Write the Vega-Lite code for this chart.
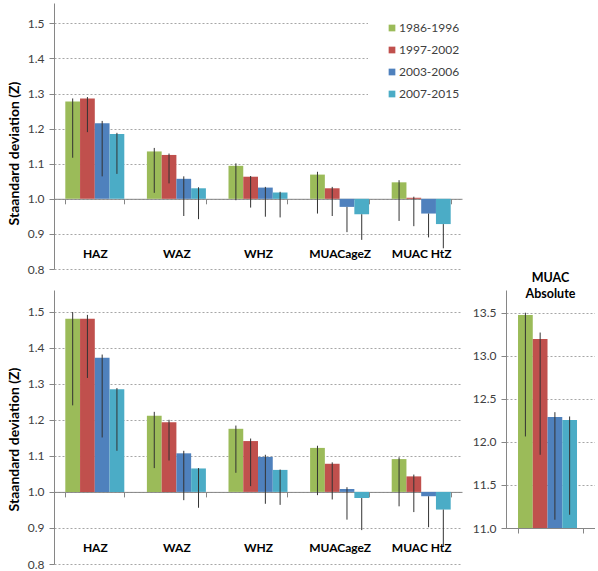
{
  "$schema": "https://vega.github.io/schema/vega-lite/v6.json",
  "padding": {"left": 7, "top": 3, "right": 0, "bottom": 0},
  "bounds": "flush",
  "spacing": 21,
  "datasets": {
    "z": [
      {"panel": "top", "indicator": "HAZ", "period": "1986-1996", "value": 1.277, "lo": 1.117, "hi": 1.286},
      {"panel": "top", "indicator": "HAZ", "period": "1997-2002", "value": 1.286, "lo": 1.190, "hi": 1.290},
      {"panel": "top", "indicator": "HAZ", "period": "2003-2006", "value": 1.215, "lo": 1.064, "hi": 1.222},
      {"panel": "top", "indicator": "HAZ", "period": "2007-2015", "value": 1.185, "lo": 1.071, "hi": 1.188},
      {"panel": "top", "indicator": "WAZ", "period": "1986-1996", "value": 1.135, "lo": 1.017, "hi": 1.145},
      {"panel": "top", "indicator": "WAZ", "period": "1997-2002", "value": 1.125, "lo": 1.044, "hi": 1.129},
      {"panel": "top", "indicator": "WAZ", "period": "2003-2006", "value": 1.057, "lo": 0.951, "hi": 1.064},
      {"panel": "top", "indicator": "WAZ", "period": "2007-2015", "value": 1.030, "lo": 0.942, "hi": 1.033},
      {"panel": "top", "indicator": "WHZ", "period": "1986-1996", "value": 1.094, "lo": 0.996, "hi": 1.101},
      {"panel": "top", "indicator": "WHZ", "period": "1997-2002", "value": 1.063, "lo": 0.975, "hi": 1.065},
      {"panel": "top", "indicator": "WHZ", "period": "2003-2006", "value": 1.032, "lo": 0.949, "hi": 1.034},
      {"panel": "top", "indicator": "WHZ", "period": "2007-2015", "value": 1.018, "lo": 0.947, "hi": 1.020},
      {"panel": "top", "indicator": "MUACageZ", "period": "1986-1996", "value": 1.069, "lo": 0.958, "hi": 1.077},
      {"panel": "top", "indicator": "MUACageZ", "period": "1997-2002", "value": 1.030, "lo": 0.951, "hi": 1.034},
      {"panel": "top", "indicator": "MUACageZ", "period": "2003-2006", "value": 0.977, "lo": 0.905, "hi": 0.977},
      {"panel": "top", "indicator": "MUACageZ", "period": "2007-2015", "value": 0.956, "lo": 0.883, "hi": 0.956},
      {"panel": "top", "indicator": "MUAC HtZ", "period": "1986-1996", "value": 1.047, "lo": 0.937, "hi": 1.053},
      {"panel": "top", "indicator": "MUAC HtZ", "period": "1997-2002", "value": 1.003, "lo": 0.922, "hi": 1.006},
      {"panel": "top", "indicator": "MUAC HtZ", "period": "2003-2006", "value": 0.958, "lo": 0.890, "hi": 0.958},
      {"panel": "top", "indicator": "MUAC HtZ", "period": "2007-2015", "value": 0.928, "lo": 0.859, "hi": 0.928},
      {"panel": "bottom", "indicator": "HAZ", "period": "1986-1996", "value": 1.480, "lo": 1.240, "hi": 1.499},
      {"panel": "bottom", "indicator": "HAZ", "period": "1997-2002", "value": 1.480, "lo": 1.316, "hi": 1.491},
      {"panel": "bottom", "indicator": "HAZ", "period": "2003-2006", "value": 1.372, "lo": 1.151, "hi": 1.381},
      {"panel": "bottom", "indicator": "HAZ", "period": "2007-2015", "value": 1.285, "lo": 1.114, "hi": 1.288},
      {"panel": "bottom", "indicator": "WAZ", "period": "1986-1996", "value": 1.211, "lo": 1.066, "hi": 1.222},
      {"panel": "bottom", "indicator": "WAZ", "period": "1997-2002", "value": 1.193, "lo": 1.087, "hi": 1.200},
      {"panel": "bottom", "indicator": "WAZ", "period": "2003-2006", "value": 1.107, "lo": 0.977, "hi": 1.114},
      {"panel": "bottom", "indicator": "WAZ", "period": "2007-2015", "value": 1.065, "lo": 0.956, "hi": 1.066},
      {"panel": "bottom", "indicator": "WHZ", "period": "1986-1996", "value": 1.175, "lo": 1.053, "hi": 1.184},
      {"panel": "bottom", "indicator": "WHZ", "period": "1997-2002", "value": 1.141, "lo": 1.016, "hi": 1.148},
      {"panel": "bottom", "indicator": "WHZ", "period": "2003-2006", "value": 1.097, "lo": 0.967, "hi": 1.103},
      {"panel": "bottom", "indicator": "WHZ", "period": "2007-2015", "value": 1.061, "lo": 0.964, "hi": 1.062},
      {"panel": "bottom", "indicator": "MUACageZ", "period": "1986-1996", "value": 1.122, "lo": 0.991, "hi": 1.128},
      {"panel": "bottom", "indicator": "MUACageZ", "period": "1997-2002", "value": 1.078, "lo": 0.979, "hi": 1.082},
      {"panel": "bottom", "indicator": "MUACageZ", "period": "2003-2006", "value": 1.008, "lo": 0.923, "hi": 1.013},
      {"panel": "bottom", "indicator": "MUACageZ", "period": "2007-2015", "value": 0.983, "lo": 0.894, "hi": 0.983},
      {"panel": "bottom", "indicator": "MUAC HtZ", "period": "1986-1996", "value": 1.091, "lo": 0.960, "hi": 1.096},
      {"panel": "bottom", "indicator": "MUAC HtZ", "period": "1997-2002", "value": 1.043, "lo": 0.944, "hi": 1.048},
      {"panel": "bottom", "indicator": "MUAC HtZ", "period": "2003-2006", "value": 0.988, "lo": 0.902, "hi": 0.988},
      {"panel": "bottom", "indicator": "MUAC HtZ", "period": "2007-2015", "value": 0.951, "lo": 0.849, "hi": 0.951}
    ],
    "abs": [
      {"indicator": "MUAC Absolute", "period": "1986-1996", "value": 13.475, "lo": 12.063, "hi": 13.50},
      {"indicator": "MUAC Absolute", "period": "1997-2002", "value": 13.196, "lo": 11.85, "hi": 13.27},
      {"indicator": "MUAC Absolute", "period": "2003-2006", "value": 12.288, "lo": 11.096, "hi": 12.345},
      {"indicator": "MUAC Absolute", "period": "2007-2015", "value": 12.253, "lo": 11.154, "hi": 12.295}
    ]
  },
  "vconcat": [
    {
      "width": 408,
      "height": 266,
      "data": {"name": "z"},
      "transform": [{"filter": "datum.panel === 'top'"}],
      "encoding": {
        "x": {
          "field": "indicator", "type": "nominal",
          "scale": {"domain": ["HAZ", "WAZ", "WHZ", "MUACageZ", "MUAC HtZ"], "paddingInner": 0.277, "paddingOuter": 0.1385},
          "axis": {"orient": "bottom", "offset": -70.2, "labelPadding": 45, "tickBand": "extent", "title": null, "labelAngle": 0, "labelFontWeight": "bold", "labelFontSize": 12, "labelColor": "#000000", "grid": false}
        },
        "xOffset": {"field": "period", "type": "nominal", "scale": {"domain": ["1986-1996", "1997-2002", "2003-2006", "2007-2015"], "paddingInner": 0, "paddingOuter": 0}}
      },
      "layer": [
        {
          "mark": {"type": "bar"},
          "encoding": {
            "y": {
              "field": "value", "type": "quantitative",
              "scale": {"domain": [0.8, 1.558], "nice": false, "zero": false},
              "axis": {"values": [0.8, 0.9, 1.0, 1.1, 1.2, 1.3, 1.4, 1.5], "format": ".1f", "title": "Staandard deviation (Z)", "titleY": 150}
            },
            "y2": {"datum": 1.0},
            "color": {
              "field": "period", "type": "nominal", "title": null,
              "scale": {"domain": ["1986-1996", "1997-2002", "2003-2006", "2007-2015"], "range": ["#9BBB59", "#C0504D", "#4F81BD", "#4BACC6"]},
              "legend": {"orient": "none", "legendX": 314, "legendY": 1, "padding": 18, "fillColor": "#ffffff", "symbolType": "square", "symbolSize": 45, "symbolStrokeWidth": 0, "labelFontSize": 12, "labelColor": "#404040", "rowPadding": 10, "labelOffset": 1}
            }
          }
        },
        {
          "mark": {"type": "rule", "color": "#333333", "strokeWidth": 1},
          "encoding": {
            "y": {"field": "lo", "type": "quantitative", "scale": {"domain": [0.8, 1.558], "nice": false, "zero": false}, "axis": {"values": [0.8, 0.9, 1.0, 1.1, 1.2, 1.3, 1.4, 1.5], "format": ".1f", "title": "Staandard deviation (Z)", "titleY": 150}},
            "y2": {"field": "hi"}
          }
        }
      ]
    },
    {
      "bounds": "flush",
      "spacing": 44,
      "hconcat": [
        {
          "width": 408,
          "height": 274,
          "data": {"name": "z"},
          "transform": [{"filter": "datum.panel === 'bottom'"}],
          "encoding": {
            "x": {
              "field": "indicator", "type": "nominal",
              "scale": {"domain": ["HAZ", "WAZ", "WHZ", "MUACageZ", "MUAC HtZ"], "paddingInner": 0.277, "paddingOuter": 0.1385},
              "axis": {"orient": "bottom", "offset": -72.1, "labelPadding": 45.5, "tickBand": "extent", "title": null, "labelAngle": 0, "labelFontWeight": "bold", "labelFontSize": 12, "labelColor": "#000000", "grid": false}
            },
            "xOffset": {"field": "period", "type": "nominal", "scale": {"domain": ["1986-1996", "1997-2002", "2003-2006", "2007-2015"], "paddingInner": 0, "paddingOuter": 0}}
          },
          "layer": [
            {
              "mark": {"type": "bar"},
              "encoding": {
                "y": {
                  "field": "value", "type": "quantitative",
                  "scale": {"domain": [0.8, 1.56], "nice": false, "zero": false},
                  "axis": {"values": [0.8, 0.9, 1.0, 1.1, 1.2, 1.3, 1.4, 1.5], "format": ".1f", "title": "Staandard deviation (Z)", "titleY": 149}
                },
                "y2": {"datum": 1.0},
                "color": {
                  "field": "period", "type": "nominal", "title": null,
                  "scale": {"domain": ["1986-1996", "1997-2002", "2003-2006", "2007-2015"], "range": ["#9BBB59", "#C0504D", "#4F81BD", "#4BACC6"]},
                  "legend": {"orient": "none", "legendX": 314, "legendY": 1, "padding": 18, "fillColor": "#ffffff", "symbolType": "square", "symbolSize": 45, "symbolStrokeWidth": 0, "labelFontSize": 12, "labelColor": "#404040", "rowPadding": 10, "labelOffset": 1}
                }
              }
            },
            {
              "mark": {"type": "rule", "color": "#333333", "strokeWidth": 1},
              "encoding": {
                "y": {"field": "lo", "type": "quantitative", "scale": {"domain": [0.8, 1.56], "nice": false, "zero": false}, "axis": {"values": [0.8, 0.9, 1.0, 1.1, 1.2, 1.3, 1.4, 1.5], "format": ".1f", "title": "Staandard deviation (Z)", "titleY": 149}},
                "y2": {"field": "hi"}
              }
            }
          ]
        },
        {
          "width": 89,
          "height": 238,
          "data": {"name": "abs"},
          "title": {"text": ["MUAC", "Absolute"], "fontSize": 12.5, "fontWeight": "bold", "color": "#000000", "offset": -10.6, "anchor": "middle", "frame": "group", "lineHeight": 16},
          "encoding": {
            "x": {
              "field": "indicator", "type": "nominal",
              "scale": {"paddingInner": 0, "paddingOuter": 0.185},
              "axis": {"labels": false, "title": null, "tickBand": "extent", "grid": false}
            },
            "xOffset": {"field": "period", "type": "nominal", "scale": {"domain": ["1986-1996", "1997-2002", "2003-2006", "2007-2015"], "paddingInner": 0, "paddingOuter": 0}}
          },
          "layer": [
            {
              "mark": {"type": "bar"},
              "encoding": {
                "y": {
                  "field": "value", "type": "quantitative",
                  "scale": {"domain": [11, 13.764], "nice": false, "zero": false},
                  "axis": {"values": [11.0, 11.5, 12.0, 12.5, 13.0, 13.5], "format": ".1f", "title": null}
                },
                "y2": {"datum": 11},
                "color": {
                  "field": "period", "type": "nominal", "title": null,
                  "scale": {"domain": ["1986-1996", "1997-2002", "2003-2006", "2007-2015"], "range": ["#9BBB59", "#C0504D", "#4F81BD", "#4BACC6"]},
                  "legend": {"orient": "none", "legendX": 314, "legendY": 1, "padding": 18, "fillColor": "#ffffff", "symbolType": "square", "symbolSize": 45, "symbolStrokeWidth": 0, "labelFontSize": 12, "labelColor": "#404040", "rowPadding": 10, "labelOffset": 1}
                }
              }
            },
            {
              "mark": {"type": "rule", "color": "#333333", "strokeWidth": 1},
              "encoding": {
                "y": {"field": "lo", "type": "quantitative", "scale": {"domain": [11, 13.764], "nice": false, "zero": false}, "axis": {"values": [11.0, 11.5, 12.0, 12.5, 13.0, 13.5], "format": ".1f", "title": null}},
                "y2": {"field": "hi"}
              }
            }
          ]
        }
      ]
    }
  ],
  "config": {
    "font": "Lato",
    "view": {"stroke": null},
    "axis": {
      "labelFont": "Lato",
      "labelFontSize": 12,
      "labelColor": "#404040",
      "domainColor": "#868686",
      "tickColor": "#868686",
      "tickSize": 5,
      "gridColor": "#a6a6a6",
      "gridDash": [2, 2],
      "titleFont": "Lato"
    },
    "axisY": {
      "grid": true,
      "labelPadding": 5,
      "titleFontSize": 14,
      "titleFontWeight": "bold",
      "titleColor": "#000000",
      "titlePadding": 6
    },
    "legend": {"labelFont": "Lato"}
  }
}
